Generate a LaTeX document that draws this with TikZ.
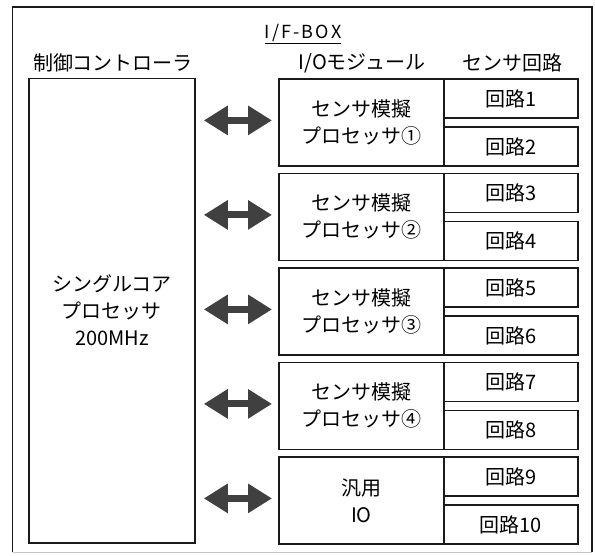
\documentclass[tikz,border=0pt]{standalone}
\usepackage{fontspec}
\setmainfont{Noto Sans CJK JP}
\usetikzlibrary{arrows.meta,calc}
\definecolor{arrowgray}{HTML}{404040}
\definecolor{linecol}{HTML}{1A1A1A}
\begin{document}
\begin{tikzpicture}[x=1pt,y=-1pt,
  box/.style={draw=linecol, line width=1.8pt, rectangle, inner sep=0pt, anchor=north west,
    font=\fontsize{20}{27}\selectfont, align=center},
  hdr/.style={inner sep=0pt, font=\fontsize{20}{24}\selectfont},
  outerline/.style={draw=linecol, line width=1.3pt},
  bigarrow/.style={draw=arrowgray, line width=7pt,
    {Triangle[length=24pt,width=28pt]}-{Triangle[length=24pt,width=28pt]}}]
\useasboundingbox (0,0) rectangle (595,555);

% outer frame
\node[inner sep=0pt, minimum width=579pt, minimum height=545pt, anchor=north west] (outer) at (12.5,7) {};
\draw[outerline] (outer.south west) -- (outer.north west) -- (outer.north east) -- (outer.south east);
\draw[gray!45, line width=1pt] (outer.south west) -- (outer.south east);

% headers
\node[hdr, font=\fontsize{18}{22}\selectfont] (title) at (303,34) {\underline{\addfontfeature{LetterSpace=12}I/F-BOX}};
\node[hdr] (hctrl) at (113,63) {制御コントローラ};
\node[hdr] (hio) at (362,63) {I/Oモジュール};
\node[hdr] (hsen) at (512,63) {センサ回路};

% controller
\node[box, minimum width=166pt, minimum height=464.5pt] (ctrl) at (28,77.5) {シングルコア\\プロセッサ\\200MHz};

% groups
\foreach \i/\t/\a/\b in {0/{センサ模擬\\プロセッサ①}/回路1/回路2,
                          1/{センサ模擬\\プロセッサ②}/回路3/回路4,
                          2/{センサ模擬\\プロセッサ③}/回路5/回路6,
                          3/{センサ模擬\\プロセッサ④}/回路7/回路8,
                          4/{汎用\\IO}/回路9/回路10}{
  \pgfmathsetmacro{\top}{78+94.5*\i}
  \pgfmathsetmacro{\low}{\top+48}
  \node[box, minimum width=165pt, minimum height=87pt] (p\i) at (278,\top) {\t};
  \node[box, minimum width=134pt, minimum height=39pt] (ca\i) at (443,\top) {\a};
  \node[box, minimum width=134pt, minimum height=39pt] (cb\i) at (443,\low) {\b};
  \draw[bigarrow] ($(ctrl.east |- p\i.west)+(8,-2)$) -- ($(p\i.west)+(-6,-2)$);
}
\end{tikzpicture}
\end{document}
